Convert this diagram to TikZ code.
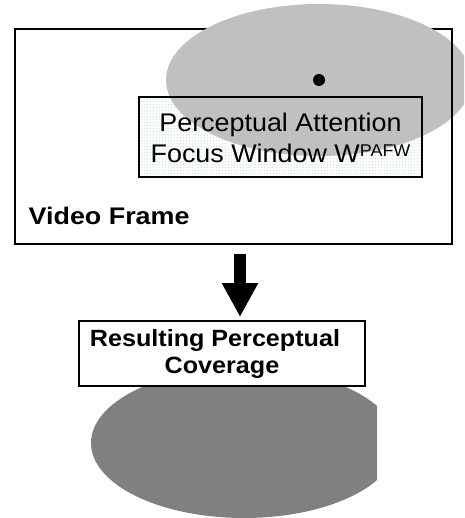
\documentclass[tikz,border=0pt]{standalone}
\usepackage{fontspec}
\usetikzlibrary{patterns.meta,arrows.meta}
\newfontfamily\pfont[FakeStretch=1.055]{Liberation Sans}
\newfontfamily\bfont[FakeStretch=1.07]{Liberation Sans Bold}
\newfontfamily\tfont[FakeStretch=1.12]{Liberation Sans Bold}
\definecolor{lightcover}{RGB}{192,192,192}
\definecolor{darkcover}{RGB}{128,128,128}
\definecolor{dotfill}{RGB}{175,210,215}
\tikzdeclarepattern{
  name=finedots, type=uncolored,
  bounding box={(0,0) and (2.7pt,2.7pt)},
  tile size={(2.7pt,2.7pt)},
  code={\fill (1.35pt,1.35pt) circle[radius=0.6pt];}
}
\tikzset{
  framebox/.style={draw, line width=2pt, inner sep=0pt, outer sep=0pt},
  plainlabel/.style={font=\pfont\fontsize{25.5}{30.4}\selectfont, align=center, inner sep=0pt},
  boldlabel/.style={font=\bfont\fontsize{23.5}{26.5}\selectfont, align=center, inner sep=0pt},
  titlelabel/.style={font=\tfont\fontsize{24}{26}\selectfont, inner sep=0pt},
  bigarrow/.style={line width=12pt, -{Triangle[width=34pt,length=34pt]}}
}
\begin{document}
\begin{tikzpicture}[x=1pt, y=-1pt]
  \useasboundingbox (0,0) rectangle (464,518);
  \clip (0,0) rectangle (464,518);

  % video frame
  \node[framebox, anchor=north west, minimum width=437pt, minimum height=215pt] (frame) at (15,29) {};
  \node[titlelabel, anchor=base west] (frametitle) at (28.5,225) {Video Frame};

  % dotted background of the focus window
  \node[inner sep=0pt, outer sep=0pt, fill=white, postaction={pattern=finedots, pattern color=dotfill},
        minimum width=283pt, minimum height=80pt] (pafwbg) at (280.5,137) {};

  % perceptual attention area
  \fill[lightcover] (319,80) ellipse[x radius=153pt, y radius=76pt];
  \draw[line width=2pt] (frame.north east) -- (frame.south east);
  \node[circle, fill=black, inner sep=0pt, minimum size=12pt] (focus) at (319,80) {};

  % focus window
  \node[framebox, minimum width=283pt, minimum height=80pt] (pafw) at (280.5,137) {};
  \node[plainlabel] (pafwtext) at (280.5,138)
    {Perceptual Attention\\Focus Window W\raisebox{5.5pt}{\fontsize{17}{17}\selectfont PAFW}};

  % resulting coverage
  \begin{scope}
    \clip (0,0) rectangle (377,518);
    \fill[darkcover] (244,443) ellipse[x radius=153pt, y radius=75pt];
  \end{scope}
  \node[framebox, fill=white, minimum width=286pt, minimum height=65pt] (result) at (222,353.5) {};
  \node[boldlabel] (resulttext) at (222,354)
    {Resulting Perceptual\hspace*{14pt}\\Coverage};

  % arrow
  \coordinate (arrowtop) at (240,254);
  \draw[bigarrow, shorten >=4pt] (arrowtop) -- (arrowtop |- result.north);
\end{tikzpicture}
\end{document}
